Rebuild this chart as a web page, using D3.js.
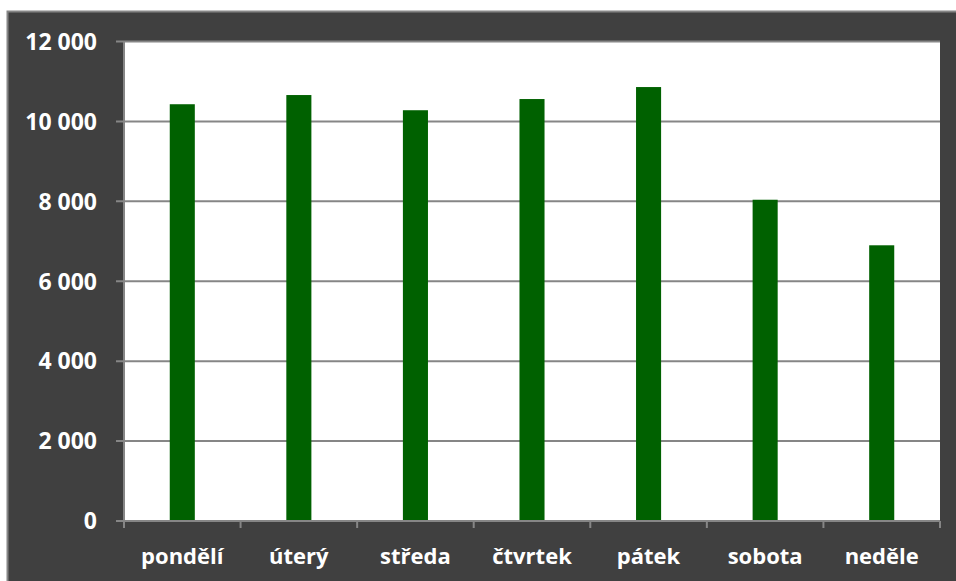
<!DOCTYPE html>
<html>
<head>
<meta charset="utf-8">
<script src="https://cdn.jsdelivr.net/npm/d3@7"></script>
<style>
  body { margin: 0; background: #fff; }
  text { font-family: "Open Sans", sans-serif; font-weight: bold; fill: #fff; }
</style>
</head>
<body>
<svg id="chart" width="956" height="581"></svg>
<script>
let days = ["pondělí", "úterý", "středa", "čtvrtek", "pátek", "sobota", "neděle"];
let counts = [10430, 10660, 10280, 10560, 10860, 8040, 6900];
let yTicks = [0, 2000, 4000, 6000, 8000, 10000, 12000];

let svg = d3.select("#chart");
let W = 956, H = 581;
let m = {top: 41.5, right: 16, bottom: 60, left: 124};

// dark frame
svg.append("rect")
    .attr("x", 7.5).attr("y", 11.5)
    .attr("width", W).attr("height", H)
    .attr("fill", "#404040")
    .attr("stroke", "#868686")
    .attr("stroke-width", 2);

let x = d3.scaleBand().domain(days).range([m.left, W - m.right]);
let y = d3.scaleLinear().domain([0, 12000]).range([521, m.top]);

// plot area
svg.append("rect")
    .attr("x", m.left).attr("y", y(12000))
    .attr("width", x.range()[1] - m.left)
    .attr("height", y(0) - y(12000))
    .attr("fill", "#fff");

// gridlines
svg.append("g").selectAll("line").data(yTicks.slice(1)).join("line")
    .attr("x1", m.left - 8).attr("x2", x.range()[1])
    .attr("y1", d => y(d)).attr("y2", d => y(d))
    .attr("stroke", "#868686").attr("stroke-width", 2);

// bars
let bw = x.bandwidth() * 0.215;
svg.append("g").selectAll("rect").data(counts).join("rect")
    .attr("x", (d, i) => x(days[i]) + x.bandwidth() / 2 - bw / 2)
    .attr("y", d => y(d))
    .attr("width", bw)
    .attr("height", d => y(0) - y(d))
    .attr("fill", "#006100");

// axes lines
svg.append("line")
    .attr("x1", m.left).attr("x2", m.left)
    .attr("y1", y(12000)).attr("y2", y(0) + 7)
    .attr("stroke", "#868686").attr("stroke-width", 2);
svg.append("line")
    .attr("x1", m.left - 8).attr("x2", x.range()[1])
    .attr("y1", y(0)).attr("y2", y(0))
    .attr("stroke", "#868686").attr("stroke-width", 2);

// x ticks at category boundaries
let bounds = days.map(d => x(d)).concat([x.range()[1]]);
svg.append("g").selectAll("line").data(bounds).join("line")
    .attr("x1", d => d).attr("x2", d => d)
    .attr("y1", y(0)).attr("y2", y(0) + 7)
    .attr("stroke", "#868686").attr("stroke-width", 2);

// y labels
let fmt = d => d3.format(",")(d).replace(/,/g, " ");
svg.append("g").selectAll("text").data(yTicks).join("text")
    .attr("x", 97).attr("y", d => y(d))
    .attr("dy", "0.36em")
    .attr("text-anchor", "end")
    .style("font-size", "23px")
    .text(fmt);

// x labels
svg.append("g").selectAll("text").data(days).join("text")
    .attr("x", d => x(d) + x.bandwidth() / 2)
    .attr("y", 564)
    .attr("text-anchor", "middle")
    .style("font-size", "22px")
    .text(d => d);
</script>
</body>
</html>
